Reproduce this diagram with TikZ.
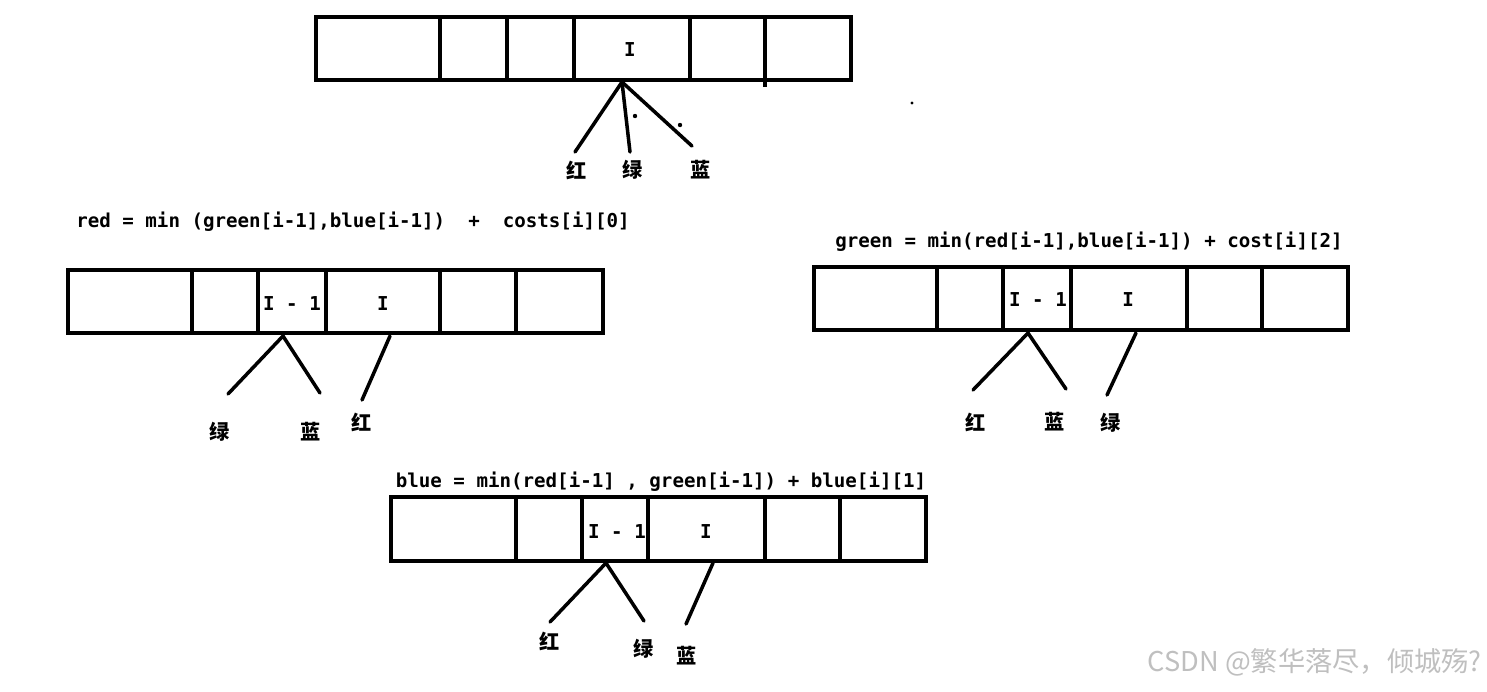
\documentclass[tikz,border=0pt]{standalone}
\usepackage{fontspec}
\setmonofont{DejaVu Sans Mono}
\newfontfamily\cjk{Noto Sans CJK SC}
\tikzset{
  arraybox/.style={line width=2.3pt},
  leg/.style={line width=2pt, line cap=round},
  hz/.style={font=\cjk\bfseries\fontsize{11.5}{13}\selectfont, inner sep=0},
  code/.style={font=\ttfamily\bfseries\fontsize{10.9}{12}\selectfont, inner sep=0},
  wm/.style={font=\cjk\fontsize{15.5}{17}\selectfont, text=black!25, inner sep=0}
}

\begin{document}
\begin{tikzpicture}[x=0.02cm, y=-0.02cm]
    \useasboundingbox (0,0) rectangle (1487,691);

    \draw[arraybox] (316,17) rectangle (851,80);
    \foreach \x in {440,507,574,690} \draw[arraybox] (\x,17) -- (\x,80);
    \draw[arraybox] (765,17) -- (765,87);
    \node[code] (topI) at (630,50) {I};
    \coordinate (topfoot) at (622,82);
    \coordinate (topr) at (575,152);
    \coordinate (topg) at (630,152);
    \coordinate (topb) at (692,146);
    \node[hz] (topR) at (577,170) {红};
    \node[hz] (topG) at (633,170) {绿};
    \node[hz] (topB) at (701,170) {蓝};
    \draw[leg] (topfoot) -- (topr);
    \draw[leg] (topfoot) -- (topg);
    \draw[leg] (topfoot) -- (topb);
    \fill (635,116) circle (2.2);
    \fill (680,125) circle (2.2);
    \fill (912,103) circle (1.6);

    \node[code] (redf) at (353,222) {red = min (green[i-1],blue[i-1])\ \ +\ \ costs[i][0]};
    \draw[arraybox] (68,270) rectangle (603,333);
    \foreach \x in {192,258,326,440,516} \draw[arraybox] (\x,270) -- (\x,333);
    \node[code] (redprev) at (292,304) {I - 1};
    \node[code] (redI) at (383,304) {I};
    \coordinate (redfoot) at (283,336);
    \coordinate (redcur) at (390,336);
    \coordinate (redg) at (228,394);
    \coordinate (redb) at (320,393);
    \coordinate (redr) at (362,400);
    \node[hz] (redG) at (220,432) {绿};
    \node[hz] (redB) at (311,432) {蓝};
    \node[hz] (redR) at (362,422) {红};
    \draw[leg] (redfoot) -- (redg);
    \draw[leg] (redfoot) -- (redb);
    \draw[leg] (redcur) -- (redr);

    \node[code] (greenf) at (1089,242) {green = min(red[i-1],blue[i-1]) + cost[i][2]};
    \draw[arraybox] (814,267) rectangle (1348,330);
    \foreach \x in {937,1003,1071,1187,1262} \draw[arraybox] (\x,267) -- (\x,330);
    \node[code] (greenprev) at (1038,300) {I - 1};
    \node[code] (greenI) at (1128,300) {I};
    \coordinate (greenfoot) at (1028,333);
    \coordinate (greencur) at (1136,333);
    \coordinate (greenr) at (973,390);
    \coordinate (greenb) at (1066,389);
    \coordinate (greeng) at (1107,395);
    \node[hz] (greenR) at (976,422) {红};
    \node[hz] (greenB) at (1055,422) {蓝};
    \node[hz] (greenG) at (1111,423) {绿};
    \draw[leg] (greenfoot) -- (greenr);
    \draw[leg] (greenfoot) -- (greenb);
    \draw[leg] (greencur) -- (greeng);

    \node[code] (bluef) at (661,482) {blue = min(red[i-1] , green[i-1]) + blue[i][1]};
    \draw[arraybox] (391,497) rectangle (926,561);
    \foreach \x in {516,582,648,765,840} \draw[arraybox] (\x,497) -- (\x,561);
    \node[code] (blueprev) at (617,532) {I - 1};
    \node[code] (blueI) at (706,532) {I};
    \coordinate (bluefoot) at (606,563);
    \coordinate (bluecur) at (713,563);
    \coordinate (bluer) at (550,622);
    \coordinate (blueg) at (644,621);
    \coordinate (blueb) at (686,624);
    \node[hz] (blueR) at (550,641) {红};
    \node[hz] (blueG) at (644,649) {绿};
    \node[hz] (blueB) at (687,656) {蓝};
    \draw[leg] (bluefoot) -- (bluer);
    \draw[leg] (bluefoot) -- (blueg);
    \draw[leg] (bluecur) -- (blueb);

    \node[wm, anchor=east] (csdn) at (1482,662) {CSDN @繁华落尽，倾城殇?};
\end{tikzpicture}
\end{document}
